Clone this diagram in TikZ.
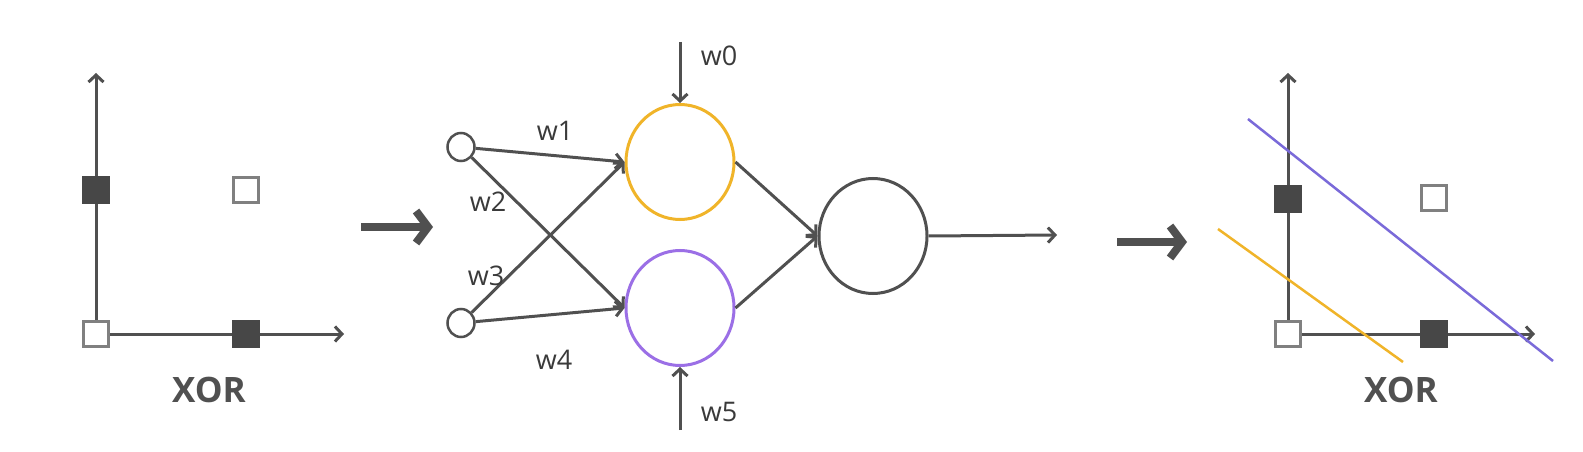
\documentclass[tikz,border=0pt]{standalone}
\usepackage{fontspec}
\setmainfont{Open Sans}
\usetikzlibrary{arrows.meta,shapes.geometric}
\definecolor{ln}{HTML}{505050}
\definecolor{sqd}{HTML}{474747}
\definecolor{sqo}{HTML}{808080}
\definecolor{txt}{HTML}{3A3A3A}
\definecolor{yel}{HTML}{F0B429}
\definecolor{pur}{HTML}{9B6FE6}
\definecolor{purl}{HTML}{7A6AD9}
\tikzset{
  axis/.style={draw=ln, line width=3pt, -{Straight Barb[length=7pt,width=15pt]}},
  fsq/.style={rectangle, draw=sqd, fill=sqd, minimum size=26pt, line width=1.5pt, inner sep=0pt},
  osq/.style={rectangle, draw=sqo, fill=white, minimum size=25pt, line width=2.5pt, inner sep=0pt},
  neur/.style={ellipse, minimum width=108pt, minimum height=115pt, line width=3pt, inner sep=0pt},
  inp/.style={ellipse, draw=ln, minimum width=27pt, minimum height=28pt, line width=2.5pt, inner sep=0pt},
  edge/.style={draw=ln, line width=3pt, -{Straight Barb[length=7pt,width=15pt]}},
  bigarr/.style={draw=ln, line width=8pt, -{Straight Barb[length=12pt,width=32pt]}},
  lab/.style={text=txt, font=\fontsize{27}{27}\selectfont, inner sep=0pt},
  xorlab/.style={text=ln, font=\bfseries\fontsize{35}{35}\selectfont, inner sep=0pt},
  sepline/.style={line width=2.5pt}
}
\begin{document}
\begin{tikzpicture}[x=1pt,y=-1pt]
\useasboundingbox[fill=white] (0,0) rectangle (1583,452);

% left plot
\coordinate (lo) at (96,334);
\coordinate (ly) at (96,73);
\coordinate (lx) at (344,334);
\draw[axis] (lo) -- (ly);
\draw[axis] (lo) -- (lx);
\node[fsq] (l01) at (96,190) {};
\node[osq] (l11) at (246,190) {};
\node[osq] (l00) at (96,334) {};
\node[fsq] (l10) at (246,334) {};
\node[xorlab] (lxor) at (209,390) {XOR};

% big arrow 1
\coordinate (a1s) at (361,227);
\coordinate (a1e) at (433,227);
\draw[bigarr] (a1s) -- (a1e);

% network
\node[inp] (i1) at (461,147) {};
\node[inp] (i2) at (461,323) {};
\node[neur, draw=yel] (h1) at (680,162) {};
\node[neur, draw=pur] (h2) at (680,308) {};
\node[neur, draw=ln] (o) at (873,236) {};
\coordinate (w0s) at (680,42);
\coordinate (w5s) at (680,430);
\coordinate (out) at (1057,235);
\draw[edge] (i1) -- (h1.west);
\draw[edge] (i1) -- (h2.west);
\draw[edge] (i2) -- (h1.west);
\draw[edge] (i2) -- (h2.west);
\draw[edge] (h1.east) -- (o.west);
\draw[edge] (h2.east) -- (o.west);
\draw[edge] (w0s) -- (h1.north);
\draw[edge] (w5s) -- (h2.south);
\draw[edge] (o.east) -- (out);
\node[lab] (lw0) at (719,56) {w0};
\node[lab] (lw1) at (555,131) {w1};
\node[lab] (lw2) at (488,202) {w2};
\node[lab] (lw3) at (486,276) {w3};
\node[lab] (lw4) at (554,360) {w4};
\node[lab] (lw5) at (719,412) {w5};

% big arrow 2
\coordinate (a2s) at (1117,242);
\coordinate (a2e) at (1187,242);
\draw[bigarr] (a2s) -- (a2e);

% right plot
\coordinate (ro) at (1288,334);
\coordinate (ry) at (1288,73);
\coordinate (rx) at (1535,334);
\draw[axis] (ro) -- (ry);
\draw[axis] (ro) -- (rx);
\coordinate (ps) at (1248,119);
\coordinate (pe) at (1553,361);
\coordinate (ys) at (1218,229);
\coordinate (ye) at (1403,362);
\draw[sepline, draw=purl] (ps) -- (pe);
\draw[sepline, draw=yel] (ys) -- (ye);
\node[fsq] (r01) at (1288,199) {};
\node[osq] (r11) at (1434,198) {};
\node[osq] (r00) at (1288,334) {};
\node[fsq] (r10) at (1434,334) {};
\node[xorlab] (rxor) at (1401,390) {XOR};
\end{tikzpicture}
\end{document}
